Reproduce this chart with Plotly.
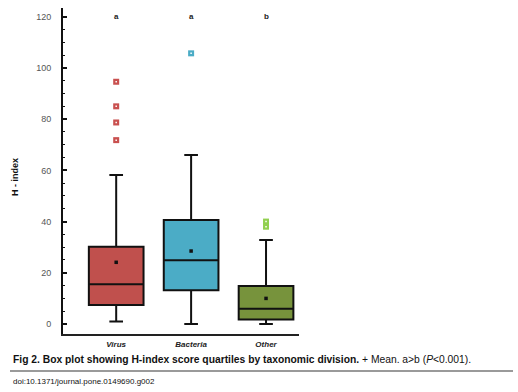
import plotly.graph_objects as go

categories = ["Virus", "Bacteria", "Other"]
q1 = [7.4, 13.2, 1.8]
median = [15.5, 24.9, 6.0]
q3 = [30.2, 40.6, 14.8]
lower_whisker = [1.0, 0.0, 0.0]
upper_whisker = [58.2, 66.0, 32.8]
means = [24.1, 28.5, 10.0]
outliers = {
    "Virus": [94.6, 85.0, 78.7, 71.8],
    "Bacteria": [105.7],
    "Other": [40.0, 38.0],
}
letters = ["a", "a", "b"]
letter_y = 120

box_colors = ["#C0504D", "#4BACC6", "#77933C"]
outlier_colors = ["#C9504F", "#4BACC6", "#92D050"]

W, H = 518, 392
L, R, T, B = 63, 299, 8, 334


def px(xp):
    return (xp - L) / (R - L)


def py(yp):
    return (B - yp) / (B - T)


fig = go.Figure()
for i, c in enumerate(categories):
    fig.add_trace(go.Box(
        x=[c], q1=[q1[i]], median=[median[i]], q3=[q3[i]],
        lowerfence=[lower_whisker[i]], upperfence=[upper_whisker[i]],
        fillcolor=box_colors[i], line=dict(color="#111111", width=2),
        width=0.73, whiskerwidth=0.25, boxpoints=False, showlegend=False,
        hoverinfo="skip",
    ))
    ys = outliers[c]
    fig.add_trace(go.Scatter(
        x=[c] * len(ys), y=ys, mode="markers", showlegend=False,
        marker=dict(symbol="square", size=6, color=outlier_colors[i],
                    line=dict(width=0)),
        hoverinfo="skip",
    ))
    fig.add_trace(go.Scatter(
        x=[c] * len(ys), y=ys, mode="markers", showlegend=False,
        marker=dict(symbol="square", size=1.5, color="white",
                    line=dict(width=0)),
        hoverinfo="skip",
    ))

fig.add_trace(go.Scatter(
    x=categories, y=means, mode="markers", showlegend=False,
    marker=dict(symbol="square", size=3.5, color="#111111"), hoverinfo="skip",
))

for c, t in zip(categories, letters):
    fig.add_annotation(x=c, y=letter_y, text=f"<b>{t}</b>", showarrow=False,
                       font=dict(size=8, color="#222"), xref="x", yref="y")

font_fam = "Liberation Sans, Arial, sans-serif"

fig.add_annotation(x=px(15), y=py(177), xref="paper", yref="paper",
                   xanchor="center", yanchor="middle",
                   text="<b>H - index</b>", textangle=-90, showarrow=False,
                   font=dict(size=9, color="#111", family=font_fam))

fig.add_annotation(x=px(11), y=py(359), xref="paper", yref="paper",
                   xanchor="left", yanchor="middle", showarrow=False,
                   text="<b>Fig 2. Box plot showing H-index score quartiles by taxonomic division.</b> + Mean. a&gt;b (<i>P</i>&lt;0.001).",
                   font=dict(size=10.3, color="#111", family=font_fam))
fig.add_shape(type="line", xref="paper", yref="paper",
              x0=px(10), x1=px(513), y0=py(371), y1=py(371),
              line=dict(color="#9a9a9a", width=2))
fig.add_annotation(x=px(11), y=py(381), xref="paper", yref="paper",
                   xanchor="left", yanchor="middle", showarrow=False,
                   text="doi:10.1371/journal.pone.0149690.g002",
                   font=dict(size=8, color="#111", family=font_fam))

fig.update_layout(
    width=W, height=H, margin=dict(l=L, r=W - R, t=T, b=H - B),
    paper_bgcolor="white", plot_bgcolor="white",
    font=dict(family=font_fam),
    xaxis=dict(type="category", range=[-0.71, 2.44], showline=True,
               linecolor="#222", linewidth=1.5, ticks="", showgrid=False,
               tickfont=dict(size=8, color="#222", style="italic", weight="bold"),
               ticklabelstandoff=2),
    yaxis=dict(range=[-3.9, 123.4], showline=True, linecolor="#111",
               linewidth=2, ticks="inside", ticklen=4, tickwidth=2,
               tickcolor="#111", dtick=20, showgrid=False, zeroline=False,
               minor=dict(dtick=5, ticks="inside", ticklen=2, tickwidth=1,
                          tickcolor="#111", showgrid=False),
               tickfont=dict(size=9, color="#555"), ticklabelstandoff=8),
)

fig.write_html("out.html", config={"displayModeBar": False},
               post_script="document.body.style.margin='0';")
